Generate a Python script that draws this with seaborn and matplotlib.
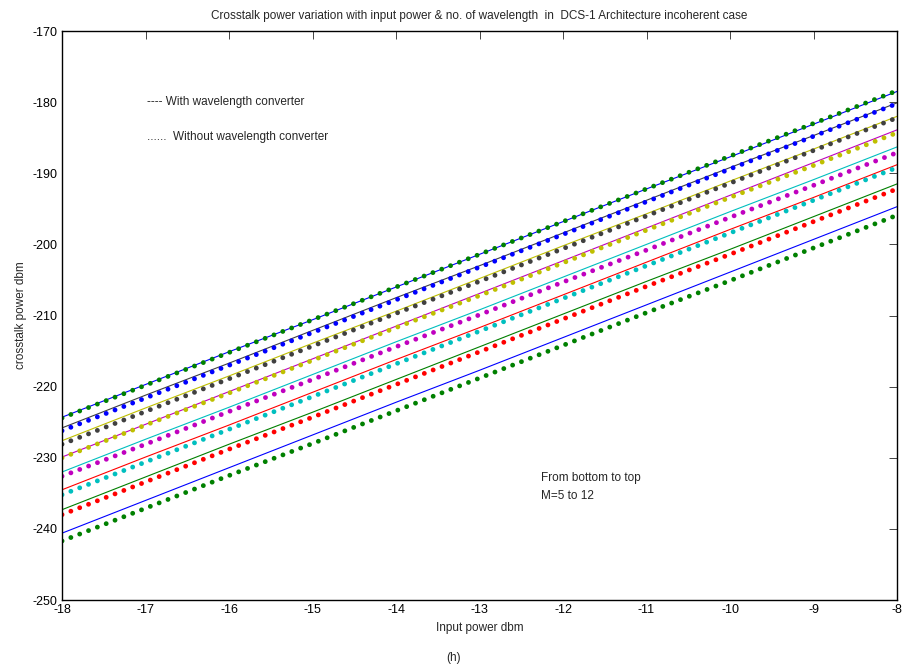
import numpy as np
import pandas as pd
import seaborn as sns
import matplotlib.pyplot as plt

# input power (dbm)
x_power = [-18, -17, -16, -15, -14, -13, -12, -11, -10, -9, -8]
m_values = [5, 6, 7, 8, 9, 10, 11, 12]

# with wavelength converter (solid), M=5..12
with_conv = [
    [-240.6, -236.0, -231.4, -226.8, -222.2, -217.7, -213.1, -208.5, -203.9, -199.3, -194.7],
    [-237.3, -232.7, -228.1, -223.6, -219.0, -214.4, -209.8, -205.2, -200.7, -196.1, -191.5],
    [-234.5, -229.9, -225.4, -220.8, -216.2, -211.7, -207.1, -202.5, -197.9, -193.4, -188.8],
    [-232.0, -227.4, -222.9, -218.3, -213.7, -209.2, -204.6, -200.0, -195.4, -190.9, -186.3],
    [-229.9, -225.3, -220.7, -216.1, -211.5, -206.9, -202.3, -197.7, -193.1, -188.5, -183.9],
    [-227.6, -223.0, -218.5, -213.9, -209.4, -204.8, -200.2, -195.7, -191.1, -186.6, -182.0],
    [-225.8, -221.2, -216.7, -212.1, -207.5, -203.0, -198.4, -193.8, -189.2, -184.7, -180.1],
    [-224.3, -219.7, -215.1, -210.6, -206.0, -201.4, -196.8, -192.2, -187.7, -183.1, -178.5],
]
# without wavelength converter (dotted), M=5..12
without_conv = [
    [-241.7, -237.1, -232.5, -228.0, -223.4, -218.8, -214.2, -209.6, -205.1, -200.5, -195.9],
    [-238.0, -233.4, -228.8, -224.3, -219.7, -215.1, -210.5, -205.9, -201.4, -196.8, -192.2],
    [-235.2, -230.6, -226.0, -221.4, -216.8, -212.2, -207.6, -203.0, -198.4, -193.8, -189.2],
    [-232.6, -228.1, -223.5, -219.0, -214.4, -209.9, -205.3, -200.8, -196.2, -191.7, -187.1],
    [-230.0, -225.4, -220.9, -216.3, -211.7, -207.2, -202.6, -198.0, -193.4, -188.9, -184.3],
    [-228.1, -223.5, -218.9, -214.3, -209.7, -205.2, -200.6, -196.0, -191.4, -186.8, -182.2],
    [-226.2, -221.6, -217.0, -212.4, -207.8, -203.2, -198.6, -194.0, -189.4, -184.8, -180.2],
    [-224.4, -219.8, -215.2, -210.6, -206.0, -201.4, -196.8, -192.2, -187.6, -183.0, -178.4],
]

# matlab style colours
mb, mg, mr = (0, 0, 1), (0, 0.5, 0), (1, 0, 0)
mc, mm, my, mk = (0, 0.75, 0.75), (0.75, 0, 0.75), (0.75, 0.75, 0), (0.25, 0.25, 0.25)
solid_colors = [mb, mg, mr, mc, mm, my, mk, mb]
dot_colors = [mg, mr, mc, mm, my, mk, mb, mg]

sns.set_style("white")
plt.rcParams['font.family'] = ['Liberation Sans', 'DejaVu Sans']
plt.rcParams['axes.unicode_minus'] = False

fig = plt.figure(figsize=(9.03, 6.71), dpi=100)
ax = fig.add_axes([0.0687, 0.1058, 0.9247, 0.848])

for i, m in enumerate(m_values):
    df = pd.DataFrame({'x': x_power, 'y': with_conv[i]})
    sns.lineplot(data=df, x='x', y='y', color=solid_colors[i], linewidth=0.8, ax=ax)
for i, m in enumerate(m_values):
    df = pd.DataFrame({'x': x_power, 'y': without_conv[i]})
    l = sns.lineplot(data=df, x='x', y='y', color=dot_colors[i], linewidth=3.5, ax=ax).lines[-1]
    l.set_linestyle((0, (0.001, 1.95)))
    l.set_dash_capstyle('round')

ax.set_xlim(-18, -8)
ax.set_ylim(-250, -170)
ax.set_xticks(np.arange(-18, -7, 1))
ax.set_yticks(np.arange(-250, -169, 10))
ax.tick_params(direction='in', length=6, width=0.6, top=True, right=True, labelsize=9, pad=3,
               labelcolor='black')
for s in ax.spines.values():
    s.set_linewidth(1.0)
    s.set_color('black')

ax.set_title("Crosstalk power variation with input power & no. of wavelength  in  DCS-1 Architecture incoherent case",
             fontsize=8.5, pad=9)
ax.set_xlabel("Input power dbm", fontsize=8.5, labelpad=4)
ax.set_ylabel("crosstalk power dbm", fontsize=8.5, labelpad=4)

ax.text(0.102, 0.875, "---- With wavelength converter", transform=ax.transAxes, fontsize=8.5, va='center')
ax.text(0.102, 0.814, "......  Without wavelength converter", transform=ax.transAxes, fontsize=8.5, va='center')
ax.text(0.574, 0.214, "From bottom to top", transform=ax.transAxes, fontsize=8.5, va='center')
ax.text(0.574, 0.183, "M=5 to 12", transform=ax.transAxes, fontsize=8.5, va='center')
fig.text(0.502, 0.019, "(h)", fontsize=8.5, ha='center', va='center')

plt.savefig("out.png", dpi=100)
